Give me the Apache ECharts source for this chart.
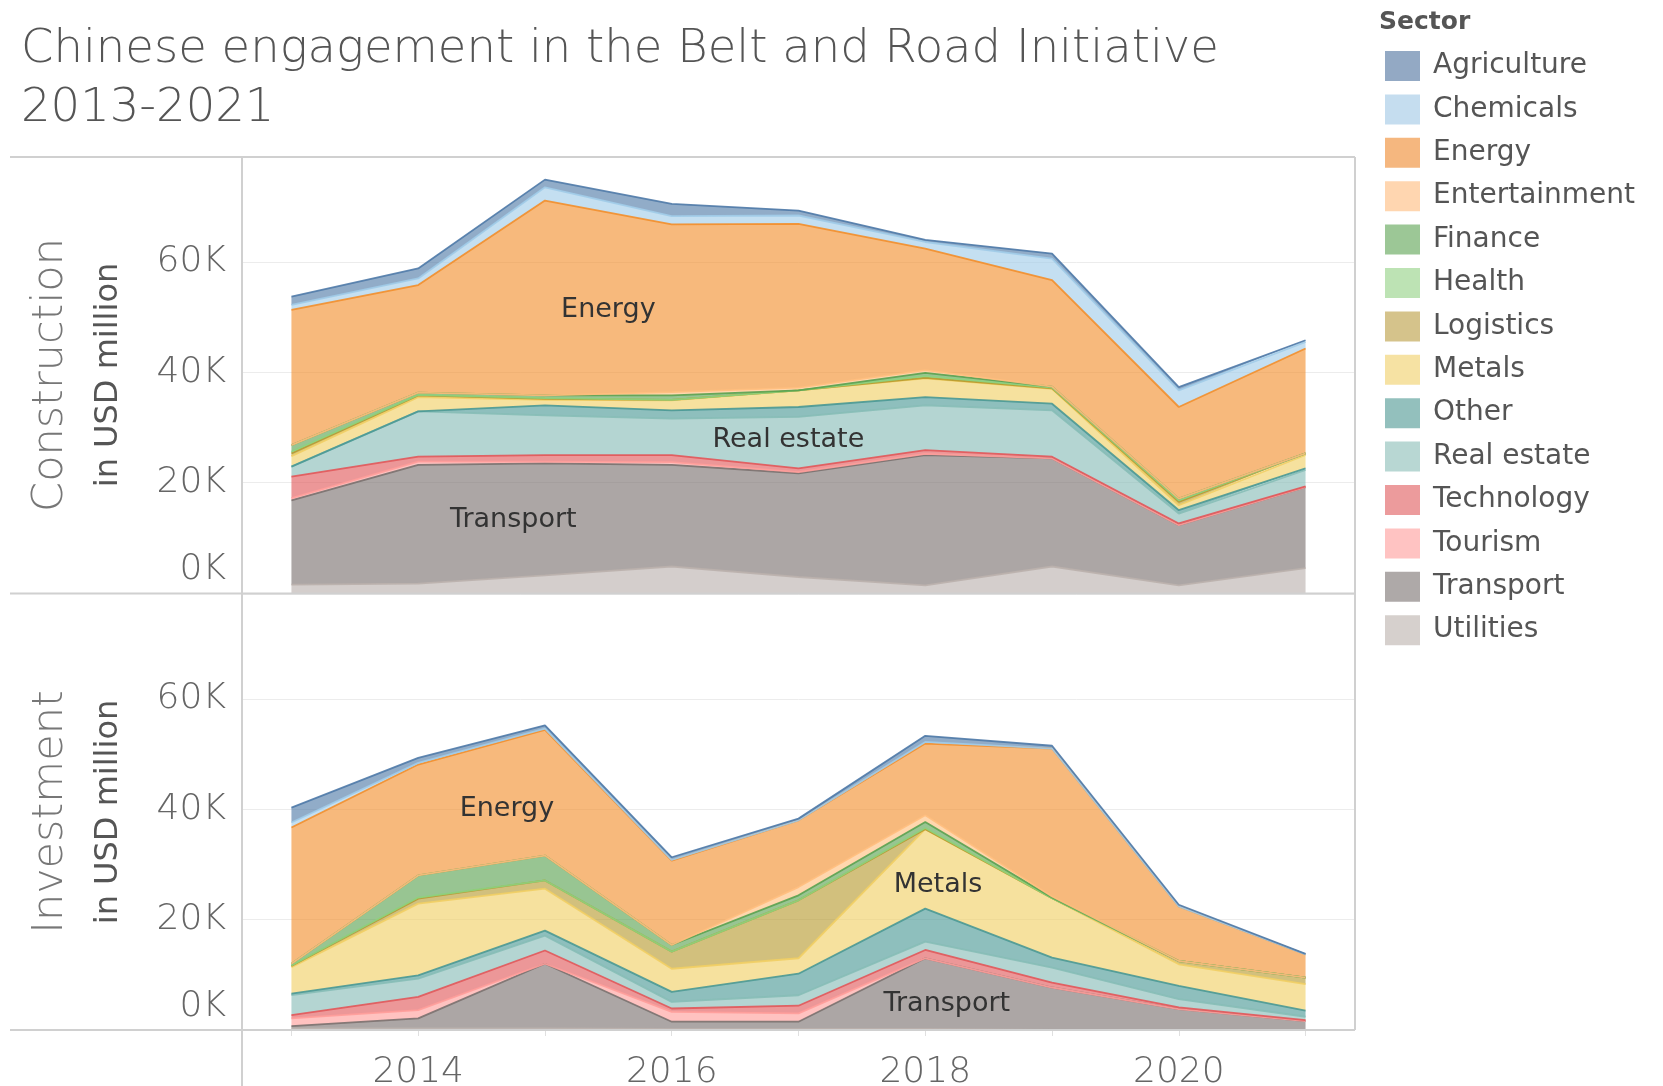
<!DOCTYPE html>
<html>
<head>
<meta charset="utf-8">
<title>Chinese engagement in the Belt and Road Initiative 2013-2021</title>
<script src="https://cdn.jsdelivr.net/npm/echarts@6/dist/echarts.min.js"></script>
<style>
  html, body { margin: 0; padding: 0; background: #fff; }
  #chart { width: 1663px; height: 1086px; }
</style>
</head>
<body>
<div id="chart"></div>
<script>
// years on the x axis
var years = [2013, 2014, 2015, 2016, 2017, 2018, 2019, 2020, 2021];
var yearTicks = [2014, 2016, 2018, 2020];

// sectors in legend order (top of the stack first)
var sectors = ['Agriculture', 'Chemicals', 'Energy', 'Entertainment', 'Finance', 'Health', 'Logistics',
               'Metals', 'Other', 'Real estate', 'Technology', 'Tourism', 'Transport', 'Utilities'];
var colors = ['#4e79a7', '#a0cbe8', '#f28e2b', '#ffbe7d', '#59a14f', '#8cd17d', '#b6992d',
              '#f1ce63', '#499894', '#86bcb6', '#e15759', '#ff9d9a', '#79706e', '#bab0ac'];
var swatches = ['#93a9c4', '#c5ddef', '#f5b77f', '#ffd6b0', '#9cc796', '#bde3b4', '#d5c38b',
                '#f6e2a3', '#93c0bd', '#b8d7d3', '#ec9b9c', '#ffc3c2', '#aea9a8', '#d6d0cd'];

// Construction, USD million
var cAgriculture   = [1500, 1800, 1400, 2200, 900, 400, 900, 600, 300];
var cChemicals     = [900, 1200, 2400, 1500, 1500, 1200, 3900, 3000, 1200];
var cEnergy        = [24500, 19500, 35300, 30400, 29700, 22000, 19300, 16600, 19000];
var cEntertainment = [0, 0, 0, 600, 500, 500, 0, 0, 0];
var cFinance       = [1200, 400, 500, 800, 0, 600, 200, 300, 0];
var cHealth        = [300, 100, 100, 0, 0, 300, 100, 300, 0];
var cLogistics     = [500, 300, 200, 100, 0, 100, 100, 600, 300];
var cMetals        = [1900, 2600, 1000, 1800, 3000, 3400, 2700, 900, 2400];
var cOther         = [0, 0, 1800, 1500, 1800, 1500, 1200, 600, 300];
var cRealEstate    = [1800, 8200, 7200, 6600, 9300, 8100, 8400, 1800, 3000];
var cTechnology    = [3900, 900, 1200, 1300, 700, 700, 300, 300, 100];
var cTourism       = [400, 600, 300, 500, 200, 200, 0, 0, 0];
var cTransport     = [15300, 21500, 20300, 18400, 18800, 23600, 19600, 10900, 14700];
var cUtilities     = [1500, 1700, 3200, 4800, 2900, 1400, 4800, 1400, 4500];

// Investment, USD million
var iAgriculture   = [2700, 900, 600, 500, 300, 1100, 500, 300, 100];
var iChemicals     = [900, 300, 200, 100, 0, 300, 0, 0, 0];
var iEnergy        = [24700, 20100, 22800, 15300, 12100, 13000, 26800, 9900, 4200];
var iEntertainment = [0, 0, 0, 0, 1500, 1200, 200, 0, 0];
var iFinance       = [300, 4000, 4500, 1200, 900, 1100, 100, 0, 0];
var iHealth        = [100, 200, 0, 0, 0, 200, 0, 0, 0];
var iLogistics     = [200, 900, 1500, 3100, 10500, 0, 0, 600, 1200];
var iMetals        = [4800, 13000, 7600, 4200, 2800, 14400, 10800, 3900, 4800];
var iOther         = [300, 600, 900, 1800, 3900, 6000, 1800, 2400, 1100];
var iRealEstate    = [3600, 3300, 2700, 1200, 1900, 1500, 2700, 1500, 600];
var iTechnology    = [600, 2400, 2400, 600, 1400, 1500, 900, 300, 200];
var iTourism       = [1400, 1500, 0, 1800, 1500, 0, 0, 0, 0];
var iTransport     = [400, 1800, 11700, 1300, 1300, 12800, 7700, 3800, 1600];
var iUtilities     = [300, 300, 300, 200, 200, 200, 0, 0, 0];

var constructionRows = [cAgriculture, cChemicals, cEnergy, cEntertainment, cFinance, cHealth, cLogistics,
                        cMetals, cOther, cRealEstate, cTechnology, cTourism, cTransport, cUtilities];
var investmentRows = [iAgriculture, iChemicals, iEnergy, iEntertainment, iFinance, iHealth, iLogistics,
                      iMetals, iOther, iRealEstate, iTechnology, iTourism, iTransport, iUtilities];

// area labels: [sector, year, value]
var constructionLabels = [['Energy', 2015.5, 51300], ['Real estate', 2016.92, 27800], ['Transport', 2014.75, 13200]];
var investmentLabels = [['Energy', 2014.7, 40000], ['Metals', 2018.1, 26300], ['Transport', 2018.17, 4700]];

var FONT = 'DejaVu Sans';

function makeSeries(rows, labels, idx) {
    var out = [];
    for (var k = sectors.length - 1; k >= 0; k--) {
        var s = {
            name: sectors[k],
            type: 'line',
            xAxisIndex: idx,
            yAxisIndex: idx,
            stack: 'panel' + idx,
            symbol: 'none',
            // value first so the stack runs on the y dimension
            encode: { x: 1, y: 0 },
            lineStyle: { color: colors[k], width: 1.8, opacity: 0.9 },
            itemStyle: { color: colors[k] },
            areaStyle: { color: colors[k], opacity: 0.62 },
            emphasis: { disabled: true },
            data: years.map(function (y, j) { return [rows[k][j], y]; })
        };
        var marks = labels.filter(function (l) { return l[0] === sectors[k]; });
        if (marks.length) {
            s.markPoint = {
                symbol: 'circle',
                symbolSize: 0,
                silent: true,
                label: { show: true, position: 'inside', color: '#333', fontSize: 27, fontFamily: FONT,
                         formatter: function (p) { return p.name; } },
                data: marks.map(function (l) { return { name: l[0], coord: [l[1], l[2]] }; })
            };
        }
        out.push(s);
    }
    return out;
}

function yAxisFor(idx, title) {
    return {
        type: 'value',
        gridIndex: idx,
        min: 0,
        max: 79000,
        interval: 20000,
        axisLine: { show: false },
        axisTick: { show: false },
        splitLine: { lineStyle: { color: '#ececec', width: 1 } },
        axisLabel: {
            margin: 16,
            showMaxLabel: false,
            color: '#666',
            fontSize: 36,
            fontFamily: FONT,
            fontWeight: 200,
            formatter: function (v) { return v === 0 ? '{z|0K}' : (v / 1000) + 'K'; },
            rich: { z: { fontSize: 36, fontFamily: FONT, fontWeight: 200, color: '#666', padding: [0, 0, 46, 0] } }
        },
        name: '{a|' + title + '}\n{b|in USD million}',
        nameLocation: 'middle',
        nameRotate: 90,
        nameGap: 104,
        nameTextStyle: {
            rich: {
                a: { fontSize: 43, lineHeight: 58, color: '#777', fontFamily: FONT, fontWeight: 200 },
                b: { fontSize: 32, lineHeight: 58, color: '#555', fontFamily: FONT }
            }
        }
    };
}

function xAxisFor(idx, showLabels) {
    return {
        type: 'value',
        gridIndex: idx,
        min: 2012.61,
        max: 2021.39,
        axisLine: { show: false },
        splitLine: { show: false },
        axisTick: {
            show: showLabels,
            customValues: years,
            length: 6,
            lineStyle: { color: '#e0e0e0' }
        },
        axisLabel: {
            show: showLabels,
            customValues: yearTicks,
            margin: 25,
            color: '#666',
            fontSize: 36,
            fontFamily: FONT,
            fontWeight: 200,
            formatter: function (v) { return String(v); }
        }
    };
}

function hline(y, x1, x2) {
    return { type: 'line', z: 100, silent: true, shape: { x1: x1, y1: y, x2: x2, y2: y },
             style: { stroke: '#d0d0d0', lineWidth: 2 } };
}
function vline(x, y1, y2) {
    return { type: 'line', z: 100, silent: true, shape: { x1: x, y1: y1, x2: x, y2: y2 },
             style: { stroke: '#d0d0d0', lineWidth: 2 } };
}

var chart = echarts.init(document.getElementById('chart'));

var option = {
    backgroundColor: '#fff',
    animation: false,
    textStyle: { fontFamily: FONT },
    title: [{
        text: 'Chinese engagement in the Belt and Road Initiative\n2013-2021',
        left: 21,
        top: 20,
        padding: 0,
        textStyle: { fontSize: 46.5, lineHeight: 59, color: '#555', fontWeight: 200, fontFamily: FONT }
    }, {
        text: 'Sector',
        left: 1379,
        top: 10,
        padding: 0,
        textStyle: { fontSize: 25, color: '#555', fontWeight: 'bold', fontFamily: FONT }
    }],
    legend: {
        orient: 'vertical',
        left: 1385,
        top: 51,
        padding: 0,
        itemWidth: 35,
        itemHeight: 30,
        itemGap: 13.4,
        selectedMode: false,
        textStyle: { fontSize: 28, lineHeight: 30, color: '#555', fontFamily: FONT, padding: [0, 0, 0, 8] },
        data: sectors.map(function (s, k) {
            return { name: s, icon: 'rect', itemStyle: { color: swatches[k], borderWidth: 0 } };
        })
    },
    grid: [
        { left: 242, top: 157, width: 1113, height: 436, outerBoundsMode: 'none' },
        { left: 242, top: 594, width: 1113, height: 436, outerBoundsMode: 'none' }
    ],
    xAxis: [xAxisFor(0, false), xAxisFor(1, true)],
    yAxis: [yAxisFor(0, 'Construction'), yAxisFor(1, 'Investment')],
    series: makeSeries(constructionRows, constructionLabels, 0).concat(makeSeries(investmentRows, investmentLabels, 1)),
    graphic: [
        hline(157, 10, 1355),
        hline(593.5, 10, 1355),
        hline(1030, 10, 1355),
        vline(242, 157, 1086),
        vline(1355, 157, 1030)
    ]
};

chart.setOption(option);
</script>
</body>
</html>
